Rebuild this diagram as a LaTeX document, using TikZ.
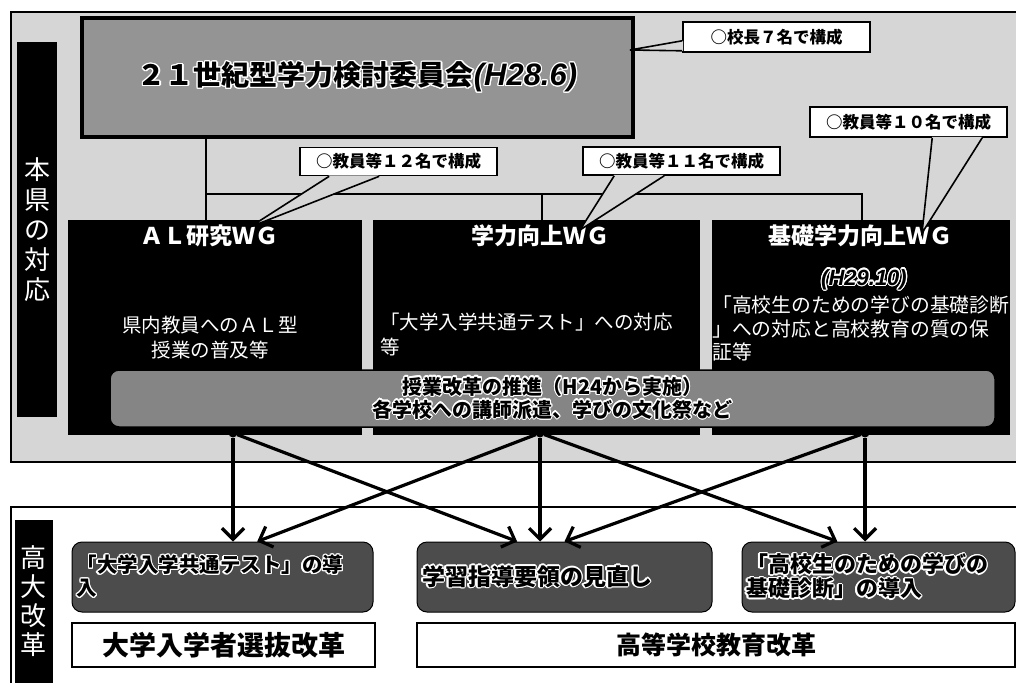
\documentclass[tikz,border=0pt]{standalone}
\usepackage{fontspec}
\setmainfont{Noto Sans CJK JP}
\newfontfamily\latinfont{Liberation Sans}
\usepackage[copies]{contour}
\contourlength{1.2pt}
\usepackage{tikz}
\usetikzlibrary{calc}
\usetikzlibrary{arrows.meta}
\usetikzlibrary{positioning}
\definecolor{speckle}{gray}{0.84}
\definecolor{titlegray}{gray}{0.58}
\definecolor{bannergray}{gray}{0.52}
\definecolor{reformgray}{gray}{0.30}

\tikzset{
  frame/.style={draw=black, line width=1.6pt, fill=speckle},
  sidebar/.style={fill=black, inner sep=0pt},
  sidetext/.style={text=white, align=center, inner sep=0pt},
  wgbox/.style={fill=black, inner sep=0pt, minimum height=215pt},
  wgtitle/.style={text=white, inner sep=0pt, font=\fontsize{23}{23}\selectfont\bfseries},
  wgtext/.style={text=white, inner sep=0pt, font=\fontsize{19.5}{25}\selectfont},
  notebox/.style={draw=black, line width=1.6pt, fill=white, minimum width=197pt, minimum height=28pt,
                  inner sep=0pt, font=\fontsize{16.5}{16.5}\selectfont\bfseries},
  pointer/.style={draw=black, line width=1.6pt},
  tree/.style={draw=black, line width=2.8pt},
  dot/.style={circle, fill=black, inner sep=0pt, minimum size=9pt},
  reform/.style={draw=black, line width=1pt, fill=reformgray, rounded corners=10pt, minimum height=70pt,
                 inner sep=0pt, align=left},
  tagbox/.style={draw=black, line width=1.3pt, fill=white, minimum height=44pt, inner sep=0pt},
  arr/.style={draw=black, line width=3.2pt, -{Straight Barb[length=11pt, width=22pt]}},
}

\begin{document}
\begin{tikzpicture}[x=1pt, y=-1pt]
\useasboundingbox (0,0) rectangle (1016,682);
\clip (0,0) rectangle (1016,682);

% 本県の対応
\draw[frame] (11,12) rectangle (1030,462);
\node[sidebar, minimum width=40pt, minimum height=375pt] (bar1) at (37,229.5) {};
\node[sidetext, font=\fontsize{26}{30}\selectfont] (side1) at (37,229.5) {本\\県\\の\\対\\応};

\node[draw=black, line width=3.5pt, fill=titlegray, minimum width=551pt, minimum height=119pt] (committee) at (357.5,77.5)
     {\contour{white}{\fontsize{28}{28}\selectfont\bfseries ２１世紀型学力検討委員会{\latinfont\itshape\fontsize{31}{31}\selectfont(H28.6)}}};

\coordinate (j1) at (206,194);
\coordinate (j2) at (542,194);
\coordinate (j3) at (862,194);

\node[wgbox, minimum width=294pt] (alwg) at (215,327.5)   {};
\node[wgbox, minimum width=327pt] (gkwg) at (536.5,327.5) {};
\node[wgbox, minimum width=298pt] (kswg) at (861,327.5)   {};

\draw[tree] (j1 |- committee.south) -- (j1 |- alwg.north);
\draw[tree] (j1) -- (j3) -- (j3 |- kswg.north);
\draw[tree] (j2) -- (j2 |- gkwg.north);

\node[wgtitle] (altitle) at (209,236) {ＡＬ研究ＷＧ};
\node[wgtitle] (gktitle) at (540,236) {学力向上ＷＧ};
\node[wgtitle] (kstitle) at (860,236) {基礎学力向上ＷＧ};
\node[inner sep=0pt] (ksdate) at (864,280)
     {\contour{white}{\latinfont\bfseries\itshape\fontsize{22}{22}\selectfont(H29.10)}};

\node[wgtext, align=center] (altext) at (210,337.5) {県内教員へのＡＬ型\\授業の普及等};
\node[wgtext, align=left, anchor=north west] (gktext) at (380,313) {「大学入学共通テスト」への対応\\等};
\node[wgtext, align=left, anchor=north west, font=\fontsize{19.8}{23.5}\selectfont] (kstext) at (712,296)
     {「高校生のための学びの基礎診断\\」への対応と高校教育の質の保\\証等};

\node[draw=black, line width=1.5pt, fill=bannergray, rounded corners=9pt, minimum width=885pt, minimum height=57pt,
      align=center, inner sep=0pt, font=\fontsize{20}{23}\selectfont\bfseries] (jugyo) at (552.5,398.5)
     {\contour{white}{授業改革の推進（H24から実施）}\\\contour{white}{各学校への講師派遣、学びの文化祭など}};

\node[dot] (src1) at (233,433) {};
\node[dot] (src2) at (540,433) {};
\node[dot] (src3) at (865,433) {};

% callouts
\node[notebox, minimum width=187pt, minimum height=30pt] (n7) at (776.5,37) {○校長７名で構成};
\node[notebox] (n12) at (398.5,161.5) {○教員等１２名で構成};
\node[notebox] (n11) at (681.5,161)   {○教員等１１名で構成};
\node[notebox, minimum height=30pt] (n10) at (908.5,122) {○教員等１０名で構成};

\coordinate (tip7)  at (630,50);
\coordinate (tip12) at (250,227);
\coordinate (tip11) at (580,230);
\coordinate (tip10) at (922,233);

\fill[speckle] ($(n7.south west)+(1,-12)$) -- (tip7) -- ($(n7.south west)+(1,-2)$) -- cycle;
\draw[pointer] ($(n7.south west)+(0,-12)$) -- (tip7) -- ($(n7.south west)+(0,-2)$);
\fill[speckle] ($(n12.south west)+(30,-1)$) -- (tip12) -- ($(n12.south west)+(80,-1)$) -- cycle;
\draw[pointer] ($(n12.south west)+(30,0)$) -- (tip12) -- ($(n12.south west)+(80,0)$);
\fill[speckle] ($(n11.south west)+(32,-1)$) -- (tip11) -- ($(n11.south west)+(82,-1)$) -- cycle;
\draw[pointer] ($(n11.south west)+(32,0)$) -- (tip11) -- ($(n11.south west)+(82,0)$);
\fill[speckle] ($(n10.south west)+(123,-1)$) -- (tip10) -- ($(n10.south west)+(173,-1)$) -- cycle;
\draw[pointer] ($(n10.south west)+(123,0)$) -- (tip10) -- ($(n10.south west)+(173,0)$);

% 高大改革
\draw[frame, fill=white] (11,507) rectangle (1030,700);
\node[sidebar, minimum width=38pt, minimum height=175pt] (bar2) at (34,607.5) {};
\node[sidetext, font=\fontsize{26}{29}\selectfont] (side2) at (33,601) {高\\大\\改\\革};

\node[reform, minimum width=301pt, text width=292pt, font=\fontsize{20.5}{23}\selectfont\bfseries] (r1) at (222.5,577)
     {\contour{white}{「大学入学共通テスト」の導}\\\contour{white}{入}};
\node[reform, minimum width=295pt, text width=285pt, font=\fontsize{23}{23}\selectfont\bfseries] (r2) at (564.5,577)
     {\contour{white}{学習指導要領の見直し}};
\node[reform, minimum width=273pt, text width=265pt, font=\fontsize{22}{24}\selectfont\bfseries] (r3) at (878.5,577)
     {\contour{white}{「高校生のための学びの}\\\contour{white}{基礎診断」の導入}};

\draw[arr] (src1) -- (src1 |- r1.north);
\draw[arr] (src1) -- ($(r2.north west)!0.34!(r2.north east)$);
\draw[arr] (src2) -- ($(r1.north west)!0.615!(r1.north east)$);
\draw[arr] (src2) -- (src2 |- r2.north);
\draw[arr] (src2) -- ($(r3.north west)!0.35!(r3.north east)$);
\draw[arr] (src3) -- (r2.north);
\draw[arr] (src3) -- (src3 |- r3.north);

\node[tagbox, minimum width=303pt, font=\fontsize{27}{27}\selectfont\bfseries] (t1) at (223.5,645) {大学入学者選抜改革};
\node[tagbox, minimum width=598pt, font=\fontsize{25}{25}\selectfont\bfseries] (t2) at (716,645)   {高等学校教育改革};
\end{tikzpicture}
\end{document}
